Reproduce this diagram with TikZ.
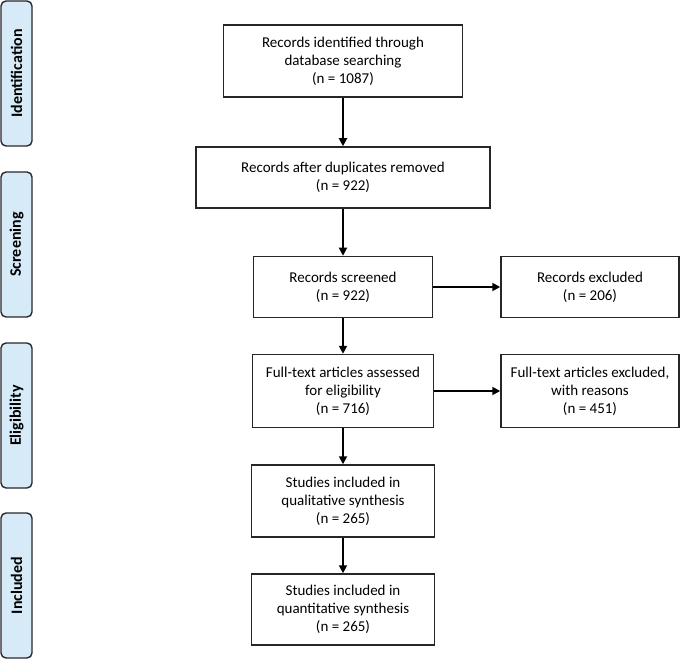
\documentclass[tikz,border=0pt]{standalone}
\usepackage{fontspec}
\setmainfont{Carlito}
\usetikzlibrary{arrows.meta}
\definecolor{sidefill}{RGB}{214,234,248}
\definecolor{sideline}{RGB}{40,40,45}
\begin{document}
\begin{tikzpicture}[x=1pt,y=-1pt,
  box/.style={draw=black!85, line width=1.5pt, fill=white, align=center, inner sep=2pt,
    font=\fontsize{15}{18}\selectfont},
  side/.style={draw=sideline, line width=1.4pt, fill=sidefill, rounded corners=5pt, rotate=90,
    minimum width=145pt, minimum height=31pt, inner sep=0pt,
    font=\fontsize{16}{18}\selectfont\bfseries},
  arr/.style={line width=1.8pt, draw=black, -{Triangle[length=8pt,width=8pt]}}]
\useasboundingbox (0,0) rectangle (685,660);

\node[side] (s1) at (16.5,73.5) {Identification};
\node[side] (s2) at (16.5,244.5) {Screening};
\node[side] (s3) at (16.5,415.5) {Eligibility};
\node[side] (s4) at (16.5,585.5) {Included};

\node[box, minimum width=239pt, minimum height=72pt] (b1) at (343,61)
  {Records identified through\\database searching\\(n = 1087)};
\node[box, minimum width=294pt, minimum height=61pt] (b2) at (343,177.5)
  {Records after duplicates removed\\(n = 922)};
\node[box, minimum width=179pt, minimum height=61pt] (b3) at (343,287)
  {Records screened\\(n = 922)};
\node[box, minimum width=178pt, minimum height=61pt] (e1) at (590,287)
  {Records excluded\\(n = 206)};
\node[box, minimum width=181pt, minimum height=73pt] (b4) at (343,391)
  {Full-text articles assessed\\for eligibility\\(n = 716)};
\node[box, minimum width=178pt, minimum height=73pt] (e2) at (590,391)
  {Full-text articles excluded,\\with reasons\\(n = 451)};
\node[box, minimum width=183pt, minimum height=72pt] (b5) at (343,501)
  {Studies included in\\qualitative synthesis\\(n = 265)};
\node[box, minimum width=183pt, minimum height=71pt] (b6) at (343,609.5)
  {Studies included in\\quantitative synthesis\\(n = 265)};

\draw[arr] (b1) -- (b2);
\draw[arr] (b2) -- (b3);
\draw[arr] (b3) -- (e1);
\draw[arr] (b3) -- (b4);
\draw[arr] (b4) -- (e2);
\draw[arr] (b4) -- (b5);
\draw[arr] (b5) -- (b6);
\end{tikzpicture}
\end{document}
